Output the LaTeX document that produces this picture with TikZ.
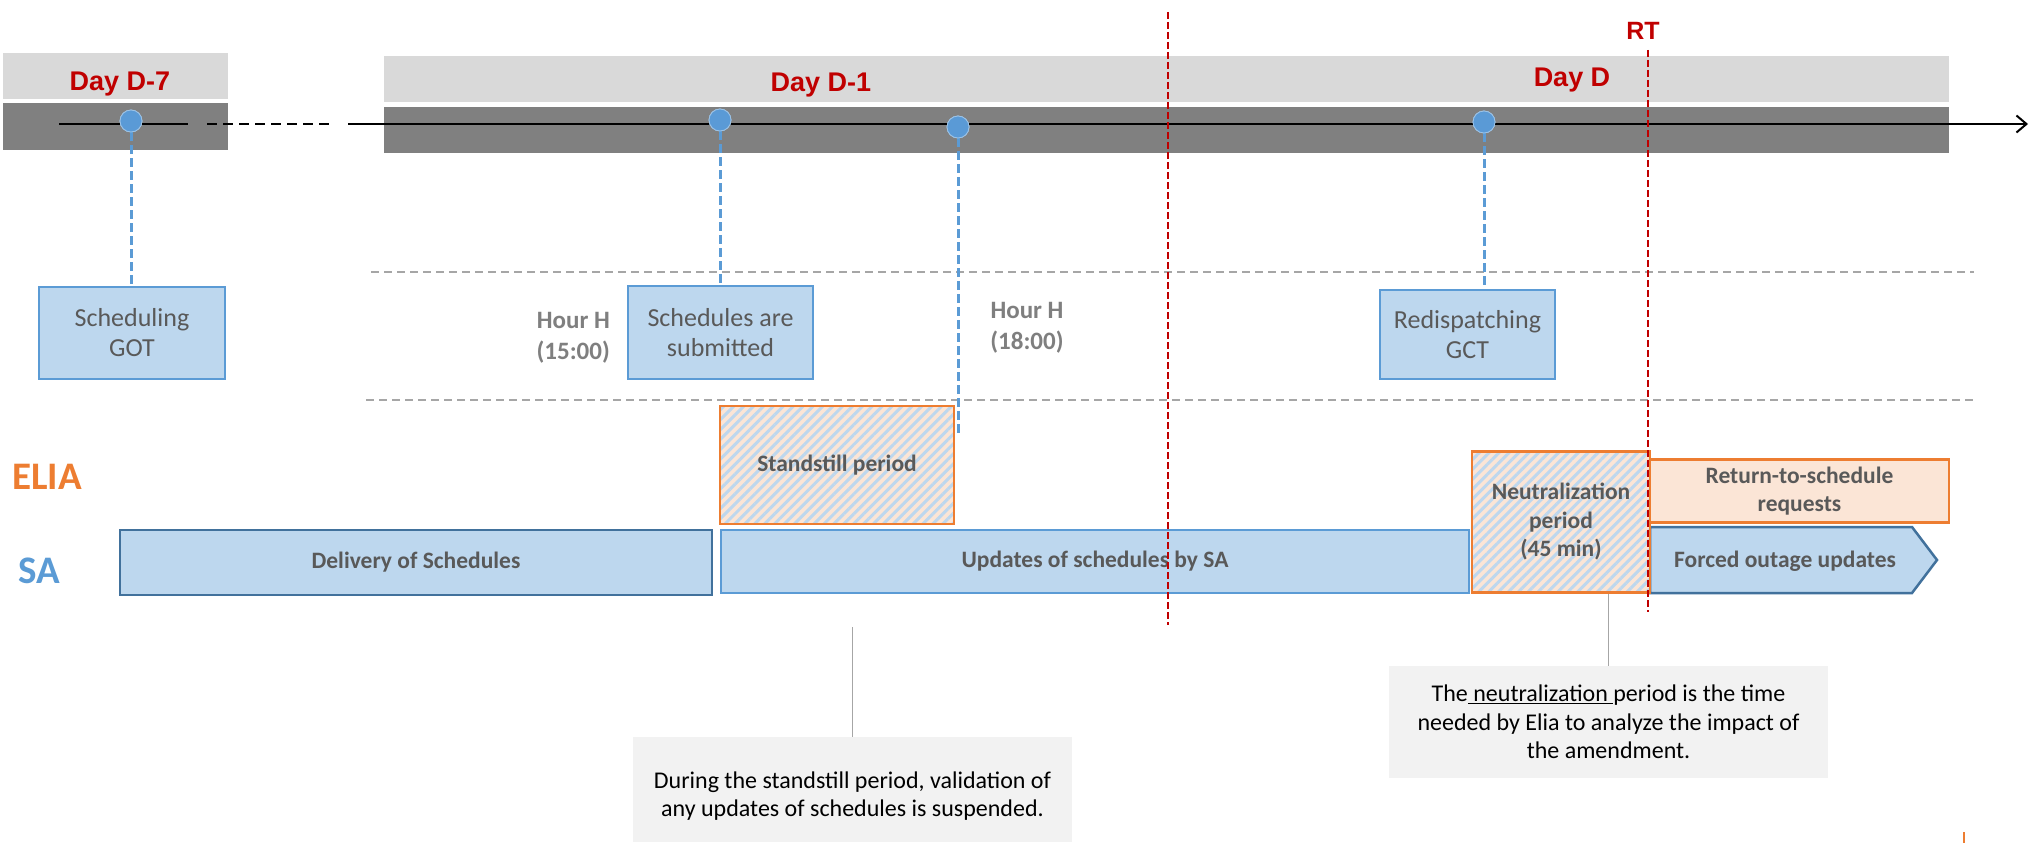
\documentclass[tikz,border=0pt]{standalone}
\usepackage{fontspec}
\setmainfont{Carlito}
\newfontfamily\arialf{Liberation Sans}
\usetikzlibrary{patterns.meta,arrows.meta}
\definecolor{barlight}{HTML}{D9D9D9}
\definecolor{bardark}{HTML}{808080}
\definecolor{dred}{HTML}{C00000}
\definecolor{bfill}{HTML}{BDD7EE}
\definecolor{bblue}{HTML}{5B9BD5}
\definecolor{dblue}{HTML}{41719C}
\definecolor{dotblue}{HTML}{5A9AD6}
\definecolor{orng}{HTML}{ED7D31}
\definecolor{peach}{HTML}{FBE5D6}
\definecolor{tgray}{HTML}{595959}
\definecolor{hgray}{HTML}{7F7F7F}
\definecolor{lgray}{HTML}{A6A6A6}
\definecolor{cfill}{HTML}{F2F2F2}
\begin{document}
\begin{tikzpicture}[x=1pt,y=-1pt,
  sz/.style n args={2}{minimum width=#1pt, minimum height=#2pt},
  bluebox/.style={draw=bblue, line width=2.5pt, fill=bfill, inner sep=0pt, text=tgray, align=center, font=\fontsize{26}{30}\selectfont},
  boldtxt/.style={text=tgray, align=center, font=\bfseries\fontsize{23.5}{28.5}\selectfont},
  sabox/.style={draw=#1, line width=2.5pt, fill=bfill, inner sep=0pt, boldtxt},
  hatchbox/.style={draw=orng, line width=2.5pt, preaction={fill=peach}, pattern={Lines[angle=45,distance=7pt,line width=3pt]}, pattern color=bfill, inner sep=0pt, boldtxt},
  peachbox/.style={draw=orng, line width=2.5pt, fill=peach, inner sep=0pt, boldtxt},
  dot/.style={circle, fill=dotblue, draw=bblue!60!white, line width=0.8pt, minimum size=22pt, inner sep=0pt},
  vdash/.style={draw=bblue, line width=3pt, dash pattern=on 9pt off 4pt},
  reddash/.style={draw=dred, line width=2pt, dash pattern=on 7pt off 3pt},
  graydash/.style={draw=lgray, line width=1.5pt, dash pattern=on 8pt off 5pt},
  tl/.style={draw=black, line width=2pt},
  daylbl/.style={text=dred, font=\arialf\bfseries\fontsize{27}{30}\selectfont, anchor=base, inner sep=0pt},
  hourlbl/.style={text=hgray, font=\bfseries\fontsize{25}{31}\selectfont, inner sep=0pt},
  rolelbl/.style={font=\bfseries\fontsize{39}{42}\selectfont, anchor=base, inner sep=0pt},
  callout/.style={fill=cfill, inner sep=0pt},
  ctext/.style={text=black, align=center, font=\fontsize{24}{28.5}\selectfont},
  cline/.style={draw=lgray, line width=1.2pt}
]
\useasboundingbox (0,0) rectangle (2030,843);
\fill[white] (0,0) rectangle (2030,843);

% bars
\fill[barlight] (3,53) rectangle (228,99);
\fill[bardark] (3,103) rectangle (228,150);
\fill[barlight] (384,56) rectangle (1949,102);
\fill[bardark] (384,107) rectangle (1949,153);

% day labels
\node[daylbl] (d7) at (120,91) {Day D-7};
\node[daylbl] (d1) at (821,92) {Day D-1};
\node[daylbl] (dd) at (1572,87) {Day D};
\node[daylbl, font=\arialf\bfseries\fontsize{25}{28}\selectfont] (rt) at (1643,40) {RT};

% timeline
\coordinate (t0) at (59,124);
\coordinate (t1) at (188,124);
\coordinate (t2) at (207,124);
\coordinate (t3) at (330,124);
\coordinate (t4) at (348,124);
\coordinate (t5) at (2028,124);
\draw[tl] (t0) -- (t1);
\draw[tl, dash pattern=on 10pt off 6pt] (t2) -- (t3);
\draw[tl, -{Straight Barb[length=10pt,width=17pt]}] (t4) -- (t5);

% gray dashed guide lines
\coordinate (g1a) at (371,272);
\coordinate (g1b) at (1974,272);
\coordinate (g2a) at (366,400);
\coordinate (g2b) at (1974,400);
\draw[graydash] (g1a) -- (g1b);
\draw[graydash] (g2a) -- (g2b);

% milestone boxes
\node[bluebox, sz={186}{92}] (got) at (132,333) {Scheduling\\GOT};
\node[bluebox, sz={185}{93}] (sub) at (720.5,332.5) {Schedules are\\submitted};
\node[bluebox, sz={175}{89}] (gct) at (1467.5,334.5) {Redispatching\\GCT};

% hour labels
\node[hourlbl, align=right, anchor=east] (h15) at (610,338) {Hour H\\(15:00)};
\node[hourlbl, align=center] (h18) at (1027,328) {Hour H\\(18:00)};

% dots and connectors
\node[dot] (p1) at (131,121) {};
\node[dot] (p2) at (720,120) {};
\node[dot] (p3) at (958,127) {};
\node[dot] (p4) at (1484,122) {};
\coordinate (p3end) at (958,437);
\draw[vdash] (p1.south) -- (p1.south |- got.north);
\draw[vdash] (p2.south) -- (p2.south |- sub.north);
\draw[vdash] (p3.south) -- (p3end);
\draw[vdash] (p4.south) -- (p4.south |- gct.north);
\node[dot] at (p1) {};
\node[dot] at (p2) {};
\node[dot] at (p3) {};
\node[dot] at (p4) {};

% role labels
\node[rolelbl, text=orng] (elia) at (47,489) {ELIA};
\node[rolelbl, text=bblue] (sa) at (39,583) {SA};

% SA row
\node[sabox=dblue, sz={592}{65}] (del) at (416,562.5) {Delivery of Schedules};
\node[sabox=bblue, sz={748}{63}] (upd) at (1095,561.5) {Updates of schedules by SA};
\draw[draw=dblue, fill=bfill, line width=2.5pt] (1650,527) -- (1912,527) -- (1937,560) -- (1912,593) -- (1650,593) -- cycle;
\node[boldtxt] (forced) at (1785,561) {Forced outage updates};

% ELIA row
\node[hatchbox, sz={234}{118}] (stand) at (837,465) {Standstill period};
\node[hatchbox, sz={178}{141}] (neut) at (1561,522) {Neutralization\\period\\(45 min)};
\node[peachbox, sz={299}{63}] (ret) at (1799.5,491) {Return-to-schedule\\requests};

% red vertical lines
\coordinate (r1a) at (1168,12);
\coordinate (r1b) at (1168,625);
\coordinate (r2a) at (1648,50);
\coordinate (r2b) at (1648,612);
\draw[reddash] (r1a) -- (r1b);
\draw[reddash] (r2a) -- (r2b);

% callouts
\node[callout, sz={439}{105}] (c1) at (852.5,789.5) {};
\node[ctext] (c1t) at (852.5,796) {During the standstill period, validation of\\any updates of schedules is suspended.};
\coordinate (c1top) at (852.5,627);
\draw[cline] (c1top) -- (c1.north);

\node[callout, ctext, sz={439}{112}] (c2) at (1608.5,722) {The\underline{\ neutralization\ }period is the time\\needed by Elia to analyze the impact of\\the amendment.};
\draw[cline] (neut.south -| c2.north) -- (c2.north);

% small orange tick
\coordinate (oa) at (1964,832);
\coordinate (ob) at (1964,843);
\draw[orng, line width=1.5pt] (oa) -- (ob);
\end{tikzpicture}
\end{document}
